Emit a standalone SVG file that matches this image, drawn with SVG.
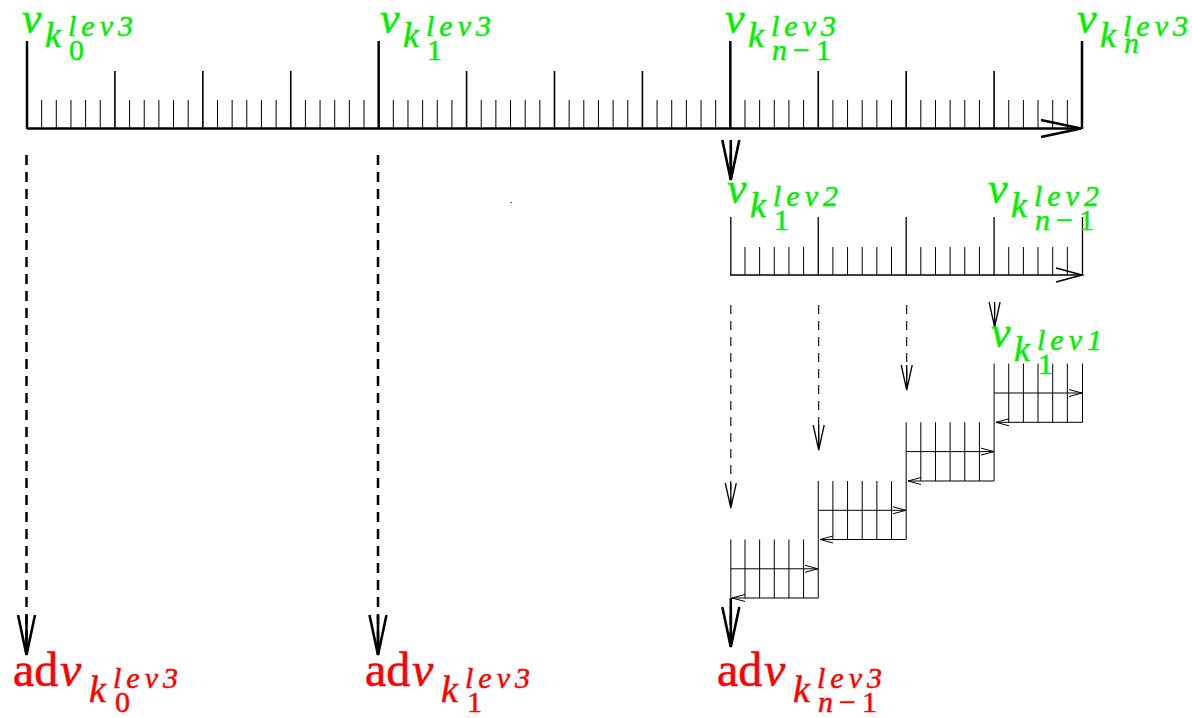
<svg xmlns="http://www.w3.org/2000/svg" width="1192" height="718" viewBox="0 0 1192 718">
<style>
  .bg { fill:#ffffff; }
  .g { fill:#00f000; stroke:#00f000; stroke-width:0.5; font-family:"Liberation Serif", serif; }
  .r { fill:#ff0000; stroke:#ff0000; stroke-width:0.5; font-family:"Liberation Serif", serif; }
  .it { font-style:italic; }
  .gv { font-size:44px; }
  .gk { font-size:36px; }
  .gsup { font-size:30px; letter-spacing:5px; }
  .gsub { font-size:30px; }
  .gsubn { font-size:30px; letter-spacing:6px; }
  .rad { font-size:48px; }
  .rk { font-size:38px; }
  .rsup { font-size:30px; letter-spacing:5px; }
  .rsub { font-size:30px; }
  .rsubn { font-size:30px; letter-spacing:6px; }
  .tk-major { stroke:#000; stroke-width:2.5; fill:none; }
  .tk-med { stroke:#000; stroke-width:1.6; fill:none; }
  .tk-small { stroke:#000; stroke-width:1; fill:none; }
  .base3 { stroke:#000; stroke-width:2.6; fill:none; }
  .base2 { stroke:#000; stroke-width:1.4; fill:none; }
  .tk2 { stroke:#000; stroke-width:1.3; fill:none; }
  .box { stroke:#000; stroke-width:1; fill:none; }
  .dash-thick { stroke:#000; stroke-width:2.5; fill:none; stroke-dasharray:10 7; }
  .dash-thin { stroke:#000; stroke-width:1.1; fill:none; stroke-dasharray:9 7; }
</style>
<defs>
  <marker id="ah-big" markerUnits="userSpaceOnUse" orient="auto" overflow="visible" refX="0" refY="0" markerWidth="50" markerHeight="24">
    <path d="M-40,-8.5 L0,0 L-40,8.5" fill="none" stroke="#000" stroke-width="2.6" stroke-dasharray="none"/>
  </marker>
  <marker id="ah-down-big" markerUnits="userSpaceOnUse" orient="auto" overflow="visible" refX="0" refY="0" markerWidth="50" markerHeight="24">
    <path d="M-40,-8.5 L0,0 L-40,8.5 M-40,0 L0,0" fill="none" stroke="#000" stroke-width="2.6" stroke-dasharray="none"/>
  </marker>
  <marker id="ah-mid" markerUnits="userSpaceOnUse" orient="auto" overflow="visible" refX="0" refY="0" markerWidth="30" markerHeight="16">
    <path d="M-26,-7 L0,0 L-26,7" fill="none" stroke="#000" stroke-width="1.5" stroke-dasharray="none"/>
  </marker>
  <marker id="ah-thin" markerUnits="userSpaceOnUse" orient="auto" overflow="visible" refX="0" refY="0" markerWidth="30" markerHeight="14">
    <path d="M-25,-5.5 L0,0 L-25,5.5 M-25,0 L0,0" fill="none" stroke="#000" stroke-width="1.3" stroke-dasharray="none"/>
  </marker>
  <marker id="ah-small" markerUnits="userSpaceOnUse" orient="auto" overflow="visible" refX="0" refY="0" markerWidth="16" markerHeight="8">
    <path d="M-13,-3.5 L0,0 L-13,3.5" fill="none" stroke="#000" stroke-width="1" stroke-dasharray="none"/>
  </marker>
</defs>
<rect class="bg" x="0" y="0" width="1192" height="718"/>

<g id="ruler-lev3">
  <path class="tk-small" d="M41.65 100V128M56.31 100V128M70.96 100V128M85.61 100V128M100.26 100V128M129.57 100V128M144.22 100V128M158.88 100V128M173.53 100V128M188.18 100V128M217.49 100V128M232.14 100V128M246.79 100V128M261.44 100V128M276.10 100V128M305.40 100V128M320.06 100V128M334.71 100V128M349.36 100V128M364.01 100V128M393.32 100V128M407.97 100V128M422.63 100V128M437.28 100V128M451.93 100V128M481.24 100V128M495.89 100V128M510.54 100V128M525.19 100V128M539.85 100V128M569.15 100V128M583.81 100V128M598.46 100V128M613.11 100V128M627.76 100V128M657.07 100V128M671.72 100V128M686.38 100V128M701.03 100V128M715.68 100V128M744.99 100V128M759.64 100V128M774.29 100V128M788.94 100V128M803.60 100V128M832.90 100V128M847.56 100V128M862.21 100V128M876.86 100V128M891.51 100V128M920.82 100V128M935.47 100V128M950.13 100V128M964.78 100V128M979.43 100V128M1008.74 100V128M1023.39 100V128M1038.04 100V128M1052.69 100V128M1067.35 100V128"/>
  <path class="tk-med" d="M114.92 71V128M202.83 71V128M290.75 71V128M466.58 71V128M554.50 71V128M642.42 71V128M818.25 71V128M906.17 71V128M994.08 71V128"/>
  <path class="tk-major" d="M27 41V129M378.67 41V129M730.33 41V129M1082 41V129"/>
  <path class="base3" d="M27 128.5H1081" marker-end="url(#ah-big)"/>
</g>

<g id="ruler-lev2">
  <path class="tk-small" d="M744.99 247V275M759.64 247V275M774.29 247V275M788.94 247V275M803.60 247V275M832.90 247V275M847.56 247V275M862.21 247V275M876.86 247V275M891.51 247V275M920.82 247V275M935.47 247V275M950.13 247V275M964.78 247V275M979.43 247V275M1008.74 247V275M1023.39 247V275M1038.04 247V275M1052.69 247V275M1067.35 247V275"/>
  <path class="tk2" d="M730.83 217V275.5M818.25 217V275.5M906.17 217V275.5M994.08 217V275.5M1082.5 217V275.5"/>
  <path class="base2" d="M730.33 275H1082" marker-end="url(#ah-mid)"/>
</g>

<g id="blocks-lev1">
  <g id="block-1">
    <path class="box" d="M730.83 539.5V598M744.99 539.5V598M759.64 539.5V598M774.29 539.5V598M788.94 539.5V598M803.60 539.5V598M818.25 539.5V598"/>
    <path class="box" d="M730.83 568.8H818" marker-end="url(#ah-small)"/>
    <path class="box" d="M818.25 598H732" marker-end="url(#ah-small)"/>
  </g>
  <g id="block-2">
    <path class="box" d="M818.25 481V539.5M832.90 481V539.5M847.56 481V539.5M862.21 481V539.5M876.86 481V539.5M891.51 481V539.5M906.17 481V539.5"/>
    <path class="box" d="M818.25 510.3H906" marker-end="url(#ah-small)"/>
    <path class="box" d="M906.17 539.5H820" marker-end="url(#ah-small)"/>
  </g>
  <g id="block-3">
    <path class="box" d="M906.17 422.3V481M920.82 422.3V481M935.47 422.3V481M950.13 422.3V481M964.78 422.3V481M979.43 422.3V481M994.08 422.3V481"/>
    <path class="box" d="M906.17 451.6H994" marker-end="url(#ah-small)"/>
    <path class="box" d="M994.08 481H908" marker-end="url(#ah-small)"/>
  </g>
  <g id="block-4">
    <path class="box" d="M994.08 363.6V422.3M1008.74 363.6V422.3M1023.39 363.6V422.3M1038.04 363.6V422.3M1052.69 363.6V422.3M1067.35 363.6V422.3M1082.5 363.6V422.3"/>
    <path class="box" d="M994.08 393H1082" marker-end="url(#ah-small)"/>
    <path class="box" d="M1082.5 422.3H996" marker-end="url(#ah-small)"/>
  </g>
</g>

<g id="connectors">
  <path class="dash-thick" d="M26.5 155V655" marker-end="url(#ah-down-big)"/>
  <path class="dash-thick" d="M378 155V655" marker-end="url(#ah-down-big)"/>
  <path class="dash-thick" d="M730.8 155V180" marker-end="url(#ah-down-big)"/>
  <path class="dash-thick" d="M730.8 598V647" marker-end="url(#ah-down-big)"/>
  <path class="dash-thin" d="M730.8 305V508" marker-end="url(#ah-thin)"/>
  <path class="dash-thin" d="M818.7 305V450" marker-end="url(#ah-thin)"/>
  <path class="dash-thin" d="M906.7 305V390" marker-end="url(#ah-thin)"/>
  <path class="dash-thin" d="M994.6 305V327" marker-end="url(#ah-thin)"/>
  <rect x="510" y="202" width="2" height="1" fill="#777"/>
</g>

<g id="lbl-v-k0-lev3">
  <text class="g"><tspan class="it gv" x="22" y="33">v</tspan><tspan class="it gk" x="45" y="47">k</tspan><tspan class="it gsup" x="68" y="36">lev3</tspan><tspan class="gsub" x="69" y="60">0</tspan></text>
</g>
<g id="lbl-v-k1-lev3">
  <text class="g"><tspan class="it gv" x="380" y="33">v</tspan><tspan class="it gk" x="403" y="47">k</tspan><tspan class="it gsup" x="426" y="36">lev3</tspan><tspan class="gsub" x="427" y="60">1</tspan></text>
</g>
<g id="lbl-v-kn1-lev3">
  <text class="g"><tspan class="it gv" x="725" y="33">v</tspan><tspan class="it gk" x="748" y="47">k</tspan><tspan class="it gsup" x="771" y="36">lev3</tspan><tspan class="gsubn" x="772" y="60"><tspan class="it">n</tspan>−1</tspan></text>
</g>
<g id="lbl-v-kn-lev3">
  <text class="g"><tspan class="it gv" x="1077" y="33">v</tspan><tspan class="it gk" x="1100" y="47">k</tspan><tspan class="it gsup" x="1123" y="36">lev3</tspan><tspan class="it gsub" x="1124" y="53">n</tspan></text>
</g>
<g id="lbl-v-k1-lev2">
  <text class="g"><tspan class="it gv" x="727" y="203">v</tspan><tspan class="it gk" x="750" y="217">k</tspan><tspan class="it gsup" x="773" y="206">lev2</tspan><tspan class="gsub" x="774" y="230">1</tspan></text>
</g>
<g id="lbl-v-kn1-lev2">
  <text class="g"><tspan class="it gv" x="988" y="203">v</tspan><tspan class="it gk" x="1011" y="217">k</tspan><tspan class="it gsup" x="1034" y="206">lev2</tspan><tspan class="gsubn" x="1035" y="230"><tspan class="it">n</tspan>−1</tspan></text>
</g>
<g id="lbl-v-k1-lev1">
  <text class="g"><tspan class="it gv" x="991" y="347">v</tspan><tspan class="it gk" x="1014" y="361">k</tspan><tspan class="it gsup" x="1037" y="350">lev1</tspan><tspan class="gsub" x="1038" y="374">1</tspan></text>
</g>

<g id="lbl-adv-k0">
  <text class="r"><tspan class="rad" x="13" y="686">ad</tspan><tspan class="it rad" x="60" y="686">v</tspan><tspan class="it rk" x="89" y="702">k</tspan><tspan class="it rsup" x="113" y="688">lev3</tspan><tspan class="rsub" x="115" y="712">0</tspan></text>
</g>
<g id="lbl-adv-k1">
  <text class="r"><tspan class="rad" x="365" y="686">ad</tspan><tspan class="it rad" x="412" y="686">v</tspan><tspan class="it rk" x="441" y="702">k</tspan><tspan class="it rsup" x="465" y="688">lev3</tspan><tspan class="rsub" x="467" y="712">1</tspan></text>
</g>
<g id="lbl-adv-kn1">
  <text class="r"><tspan class="rad" x="717" y="686">ad</tspan><tspan class="it rad" x="764" y="686">v</tspan><tspan class="it rk" x="793" y="702">k</tspan><tspan class="it rsup" x="817" y="688">lev3</tspan><tspan class="rsubn" x="818" y="712"><tspan class="it">n</tspan>−1</tspan></text>
</g>
</svg>
